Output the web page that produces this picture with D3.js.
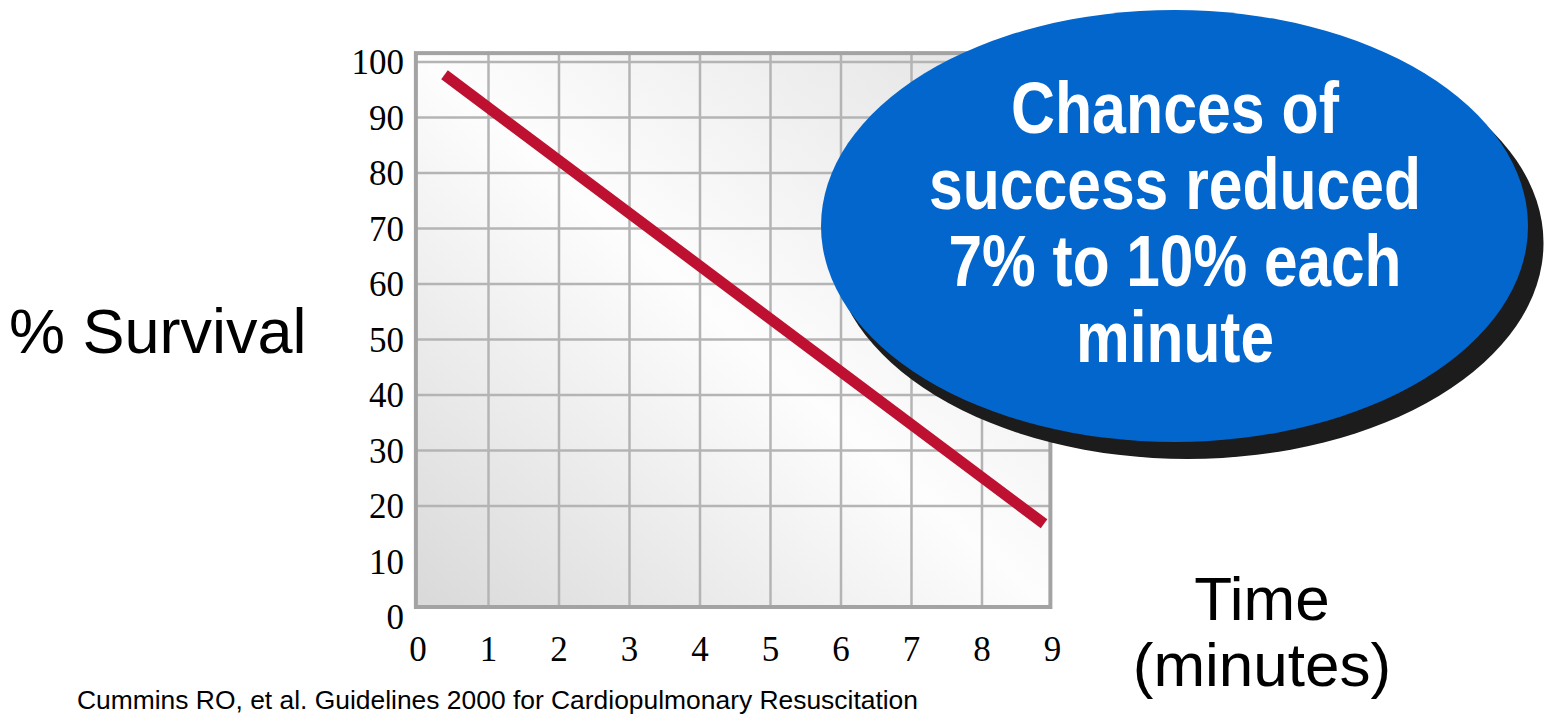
<!DOCTYPE html>
<html>
<head>
<meta charset="utf-8">
<script src="https://cdn.jsdelivr.net/npm/d3@7"></script>
<style>
body { margin: 0; background: #fff; }
svg { display: block; }
</style>
</head>
<body>
<div id="chart"></div>
<script>
// data
var xTicks = [0, 1, 2, 3, 4, 5, 6, 7, 8, 9]
var yTicks = [0, 10, 20, 30, 40, 50, 60, 70, 80, 90, 100]
var xGrid = [1, 2, 3, 4, 5, 6, 7, 8]
var yGrid = [20, 30, 40, 50, 60, 70, 80, 90, 100]
var minutes = [0.376, 8.88]
var survival = [97.7, 16.8]
var bubbleLines = ["Chances of", "success reduced", "7% to 10% each", "minute"]
var yLabel = "% Survival"
var xLabel = ["Time", "(minutes)"]
var citation = "Cummins RO, et al. Guidelines 2000 for Cardiopulmonary Resuscitation"

// widths of the condensed bubble lines (no narrow font installed)
var bubbleWidths = [328, 492, 453, 198]

var svg = d3.select("#chart").append("svg").attr("width", 1547).attr("height", 714)

var x = d3.scaleLinear().domain([0, 9]).range([418, 1052.5])
var y = d3.scaleLinear().domain([0, 100]).range([617, 62])

// plot background
var defs = svg.append("defs")
var grad = defs.append("linearGradient").attr("id", "bg")
	.attr("x1", 0).attr("y1", 1).attr("x2", 1).attr("y2", 0)
grad.append("stop").attr("offset", 0).attr("stop-color", "#d9d9d9")
grad.append("stop").attr("offset", 0.5).attr("stop-color", "#fdfdfd")
grad.append("stop").attr("offset", 1).attr("stop-color", "#e2e2e2")

var fx0 = x(-0.03), fx1 = x(8.97), fy0 = y(101.6), fy1 = y(1.8)

svg.append("rect")
	.attr("x", fx0).attr("y", fy0)
	.attr("width", fx1 - fx0).attr("height", fy1 - fy0)
	.attr("fill", "url(#bg)")

// grid
svg.selectAll("line.vg").data(xGrid).enter().append("line")
	.attr("class", "vg")
	.attr("x1", function(d){return x(d)}).attr("x2", function(d){return x(d)})
	.attr("y1", fy0).attr("y2", fy1)
	.attr("stroke", "#b4b4b4").attr("stroke-width", 2.5)

svg.selectAll("line.hg").data(yGrid).enter().append("line")
	.attr("class", "hg")
	.attr("y1", function(d){return y(d)}).attr("y2", function(d){return y(d)})
	.attr("x1", fx0).attr("x2", fx1)
	.attr("stroke", "#b4b4b4").attr("stroke-width", 2.5)

svg.append("rect")
	.attr("x", fx0).attr("y", fy0)
	.attr("width", fx1 - fx0).attr("height", fy1 - fy0)
	.attr("fill", "none").attr("stroke", "#a3a3a3").attr("stroke-width", 4)

// tick labels
svg.selectAll("text.yt").data(yTicks).enter().append("text")
	.attr("class", "yt")
	.attr("x", 404).attr("y", function(d){return y(d)})
	.attr("dy", "0.35em")
	.attr("text-anchor", "end")
	.attr("font-family", "'Liberation Serif', 'Times New Roman', serif")
	.attr("font-size", 35)
	.text(function(d){return d})

svg.selectAll("text.xt").data(xTicks).enter().append("text")
	.attr("class", "xt")
	.attr("x", function(d){return x(d)}).attr("y", 661)
	.attr("text-anchor", "middle")
	.attr("font-family", "'Liberation Serif', 'Times New Roman', serif")
	.attr("font-size", 35)
	.text(function(d){return d})

// survival line
var pts = minutes.map(function(d, i){return [d, survival[i]]})
svg.append("path")
	.datum(pts)
	.attr("d", d3.line().x(function(d){return x(d[0])}).y(function(d){return y(d[1])}))
	.attr("stroke", "#be1131").attr("stroke-width", 11).attr("fill", "none")

// axis titles
svg.append("text")
	.attr("x", 9).attr("y", 353)
	.attr("font-family", "'Liberation Sans', Arial, sans-serif")
	.attr("font-size", 63)
	.text(yLabel)

svg.selectAll("text.xl").data(xLabel).enter().append("text")
	.attr("class", "xl")
	.attr("x", 1262).attr("y", function(d, i){return 620 + i * 66})
	.attr("text-anchor", "middle")
	.attr("font-family", "'Liberation Sans', Arial, sans-serif")
	.attr("font-size", 62)
	.text(function(d){return d})

// bubble
svg.append("ellipse")
	.attr("cx", 1187.5).attr("cy", 243).attr("rx", 356).attr("ry", 216)
	.attr("fill", "#1c1c1c")
svg.append("ellipse")
	.attr("cx", 1174.5).attr("cy", 226).attr("rx", 353.5).attr("ry", 216)
	.attr("fill", "#0366cc")

svg.selectAll("text.bt").data(bubbleLines).enter().append("text")
	.attr("class", "bt")
	.attr("x", 1175).attr("y", function(d, i){return 133 + i * 76.3})
	.attr("text-anchor", "middle")
	.attr("font-family", "'Liberation Sans Narrow', 'Arial Narrow', 'Liberation Sans', sans-serif")
	.attr("font-weight", "bold")
	.attr("font-size", 72)
	.attr("textLength", function(d, i){return bubbleWidths[i]})
	.attr("lengthAdjust", "spacingAndGlyphs")
	.attr("fill", "#fff")
	.text(function(d){return d})

// source
svg.append("text")
	.attr("x", 77).attr("y", 709)
	.attr("font-family", "'Liberation Sans', Arial, sans-serif")
	.attr("font-size", 25)
	.attr("textLength", 841)
	.attr("lengthAdjust", "spacingAndGlyphs")
	.text(citation)
</script>
</body>
</html>
